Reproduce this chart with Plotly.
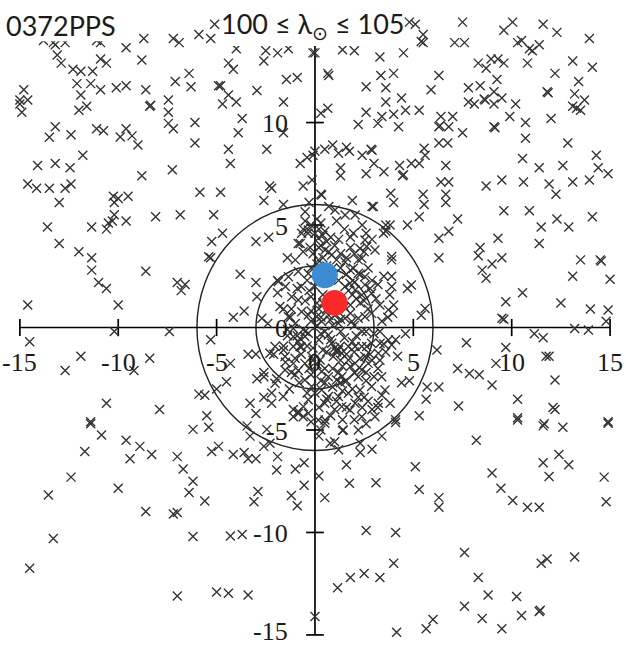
import plotly.graph_objects as go

# ---------------- data ----------------
pts_nw = [(-13.8,14.0),(-13.3,13.9),(-13.2,13.8),(-12.7,13.9),(-11.1,14.0),(-10.9,13.9),(-8.7,14.1),(-7.2,14.1),
          (-6.9,13.9),(-5.9,14.3),(-5.3,14.1),(-5.1,14.8),(-4.0,13.6),(-2.5,13.5),(-1.9,13.4),(-1.35,13.6),(-2.6,13.0),
          (-0.1,13.4),(-13.1,13.3),(-12.9,12.9),(-10.9,13.1),(-10.6,12.9),(-8.8,13.05),(-9.6,13.65),(-12.3,12.6),
          (-11.9,12.5),(-11.3,12.5),(-12.1,11.9),(-11.4,11.9),(-10.9,11.6),(-11.9,11.35),(-10.1,11.7),(-9.6,11.8),
          (-8.6,11.6),(-6.4,12.4),(-7.1,12.0),(-6.3,11.75),(-4.9,11.8),(-4.8,11.8),(-4.4,12.9),(-4.15,12.6),
          (-2.95,11.56),(-1.45,12.1),(-0.9,12.2),(-14.8,11.6),(-15.0,11.1),(-14.6,11.1),(-15.0,10.9),(-14.9,10.5),
          (-12.0,10.6),(-11.6,10.8),(-8.4,10.8),(-8.35,10.85),(-7.45,11.1),(-7.45,10.5),(-7.45,9.96),(-7.2,9.7),(-6.1,10.0),
          (-4.7,10.9),(-4.0,11.0),(-4.4,11.35),(-3.7,10.2),(-3.9,9.5),(-1.6,11.0),(-1.6,9.5),(-13.2,9.8),(-13.5,9.28),
          (-12.4,9.4),(-11.1,9.7),(-10.75,9.6),(-9.6,9.7),(-9.9,9.3),(-9.3,9.35),(-9.0,8.9),(-6.1,9.0),(-4.4,8.7),
          (-2.45,8.7),(-11.8,8.4),(-14.1,7.9),(-13.2,8.0),(-12.45,7.8),(-8.8,7.4),(-7.25,7.7),(-4.3,8.0),(-14.6,7.0),
          (-14.15,6.8),(-13.5,6.8),(-12.7,6.8),(-12.4,7.0),(-13.0,6.1),(-10.25,6.4),(-10.0,6.3),(-9.5,6.4),(-10.2,6.1),
          (-5.85,6.6),(-4.8,6.6),(-2.6,6.2),(-2.3,6.9),(-2.2,6.8),(-0.75,8.0),(-0.4,8.3),(-0.1,8.4),(-0.6,6.9),
          (-0.15,7.2),(-1.6,6.0)]

pts_ne = [(4.8,14.9),(5.1,14.8),(5.5,14.3),(5.4,13.95),(5.5,13.9),(7.5,14.9),(7.1,13.9),(7.6,13.9),(9.6,14.5),
          (10.05,14.9),(10.3,13.9),(10.5,14.0),(10.9,13.6),(11.05,13.5),(11.4,13.8),(11.6,14.8),(12.3,14.4),(13.95,14.1),
          (1.4,13.55),(2.0,13.5),(0.0,13.4),(3.3,13.2),(4.5,13.4),(0.65,12.4),(0.7,12.3),(3.35,12.3),(4.0,12.4),(2.6,11.75),
          (3.6,11.7),(4.4,11.2),(3.6,11.0),(6.3,12.3),(5.9,11.6),(8.3,12.9),(8.7,12.65),(8.95,13.1),(9.3,13.1),
          (9.6,12.9),(10.8,12.9),(13.1,13.0),(14.1,12.7),(12.2,12.4),(13.4,12.0),(11.8,11.5),(11.85,11.45),(13.2,11.4),(13.7,11.1),
          (13.1,10.8),(13.5,10.6),(13.3,10.7),(7.8,11.7),(8.4,11.8),(9.25,12.1),(9.1,11.5),(7.8,11.0),(8.1,10.9),
          (8.6,11.15),(8.65,11.1),(9.1,10.9),(9.5,11.2),(10.2,10.9),(0.3,10.45),(0.65,10.7),(2.2,9.9),(2.6,10.5),(3.2,9.96),
          (3.4,10.3),(4.0,10.4),(4.25,9.8),(4.6,10.6),(5.3,10.6),(6.4,10.3),(7.0,10.3),(6.3,9.8),(6.35,9.85),(6.8,9.8),(7.5,9.5),
          (9.1,9.8),(9.15,9.75),(9.9,10.3),(10.7,10.0),(12.0,10.2),(10.7,9.23),(12.85,9.0),(0.0,8.6),(0.5,8.7),(0.9,8.9),
          (1.2,8.5),(1.6,8.8),(1.75,8.6),(2.4,8.4),(2.85,8.7),(2.9,8.65),(3.0,8.0),(3.5,7.6),(2.6,7.5),(1.3,7.8),(1.3,7.4),
          (4.3,7.9),(4.45,7.4),(4.5,7.45),(4.9,8.0),(5.3,8.0),(5.6,8.4),(5.55,8.75),(6.3,9.0),(6.75,9.0),(6.65,7.9),
          (6.4,7.1),(6.8,7.1),(6.65,6.5),(6.65,6.1),(5.5,6.5),(5.55,6.0),(3.85,6.55),(4.0,6.1),(2.9,5.9),(1.9,6.2),
          (0.3,6.5),(8.7,6.9),(9.5,7.2),(10.6,7.1),(10.55,8.25),(11.4,7.8),(11.9,7.0),(12.25,6.5),(12.6,7.9),
          (13.1,7.1),(13.95,7.2),(14.3,8.4),(14.4,7.8),(14.9,7.5),(9.6,5.7),(10.9,5.7)]

pts_w = [(-13.6,4.9),(-13.0,4.1),(-12.0,3.7),(-11.35,4.9),(-11.35,3.4),(-11.35,2.8),(-10.6,4.8),(-10.3,5.2),
         (-10.2,5.5),(-9.6,5.2),(-10.5,5.1),(-8.1,5.4),(-6.85,5.5),(-5.15,5.5),(-11.0,2.2),(-10.6,1.9),(-8.6,2.75),
         (-7.0,2.2),(-6.6,2.1),(-6.8,1.8),(-14.6,1.1),(-10.0,1.1),(-14.5,-0.7),(-10.2,-0.2),(-7.4,-0.2),(-5.3,-0.6),
         (-11.9,-1.4),(-12.7,-2.1),(-8.4,-1.5),(-9.2,-2.1),(-10.6,-3.7),(-7.9,-4.0),(-11.4,-4.6),(-4.7,4.6),
         (-5.25,4.2),(-5.3,3.4),(-5.4,3.45),(-3.8,2.6),(-3.0,2.2),(-2.95,1.5),(-2.35,4.4),(-3.0,4.2),(-1.4,3.4),
         (-1.9,2.3),(-1.6,0.9),(-4.15,0.5),(-3.6,0.8),(-2.7,0.45),(-4.3,-1.75),(-5.0,-3.0),(-5.6,-3.3),(-5.9,-3.25),
         (-4.5,-2.65),(-5.5,-4.3),(-3.4,-1.3),(-3.0,-1.3),(-2.1,-1.3),(-3.3,-3.7),(-3.0,-4.2),(-2.6,-3.4),(-2.2,-3.2),
         (-2.95,-2.5),(-2.6,-2.4),(-1.95,-2.5),(-1.6,-0.9),(-1.5,-1.7),(-1.1,-1.75),(-0.85,-2.1),(-1.1,-4.0),
         (-0.85,-4.2),(-0.6,-4.35),(-1.4,-0.1),(-1.1,-0.05),(-0.85,-0.7),(-0.7,-0.95),(-1.1,-0.45),(-1.25,0.5),
         (-0.6,4.8),(-0.35,4.6),(-0.75,4.1),(-0.25,3.9),(-0.5,5.2)]

pts_e = [(5.3,5.4),(7.25,5.3),(4.7,5.0),(6.3,4.35),(6.8,4.7),(6.3,3.4),(8.4,3.9),(8.3,3.5),(9.3,4.35),(9.5,3.4),
         (8.5,2.8),(9.0,3.1),(8.7,2.4),(9.7,1.26),(10.55,1.7),(11.4,4.1),(11.5,4.9),(12.3,5.3),(12.9,4.9),(14.1,5.4),
         (13.5,3.3),(14.5,3.3),(14.55,3.25),(13.1,2.5),(15.0,2.35),(12.5,1.2),(14.0,0.9),(14.9,0.85),(14.8,0.3),(9.5,0.45),
         (9.6,0.4),(13.2,-0.05),(13.9,-0.12),(11.15,-0.3),(11.6,-0.5),(7.7,-0.74),(9.7,-0.97),(9.2,-1.75),(7.25,-2.0),
         (7.85,-2.24),(8.35,-2.3),(9.0,-2.8),(6.3,-2.9),(5.7,-2.9),(5.65,-3.5),(7.3,-3.83),(10.3,-3.5),(10.3,-4.4),
         (11.75,-1.4),(11.9,-1.4),(12.2,-2.56),(12.1,-3.9),(12.2,-4.0),(14.9,-4.6),(11.65,-4.7),(4.7,1.9),(4.9,2.07),
         (3.8,1.6),(3.95,0.69),(3.9,2.5),(3.9,3.3),(3.6,4.7),(3.6,5.0),(5.4,0.6),(5.6,0.93),(4.6,-0.3),(4.1,-0.6),
         (3.5,-0.8),(6.2,-1.1),(4.8,-2.6),(4.4,-2.7),(3.2,-3.9),(4.1,-4.5),(5.3,-4.3)]

pts_sw = [(-11.4,-4.7),(-10.85,-5.24),(-11.7,-6.05),(-9.6,-5.5),(-8.9,-5.8),(-9.4,-6.4),(-8.3,-6.2),(-7.0,-6.3),
          (-6.7,-6.9),(-6.2,-7.5),(-6.4,-8.05),(-5.6,-8.46),(-12.4,-7.3),(-13.55,-8.17),(-10.0,-7.84),(-8.6,-8.98),
          (-7.2,-9.1),(-7.0,-9.03),(-6.2,-10.2),(-13.3,-10.3),(-14.5,-11.75),(-7.0,-13.1),(-5.0,-12.9),(-4.4,-12.97),
          (-3.4,-13.05),(-4.3,-10.17),(-3.7,-10.1),(-6.2,-4.97),(-5.4,-4.87),(-5.25,-6.05),(-4.9,-5.8),(-4.15,-6.2),
          (-3.6,-6.1),(-3.4,-6.4),(-3.0,-6.4),(-3.45,-4.8),(-2.45,-4.97),(-2.6,-5.8),(-3.3,-5.3),(-1.9,-6.3),
          (-1.95,-6.95),(-1.0,-6.9),(-0.55,-6.6),(-0.55,-7.7),(-1.2,-8.2),(-0.9,-8.7),(-2.9,-8.0),(-3.1,-8.5),
          (0.0,-14.1)]

pts_se = [(0.5,-4.67),(1.4,-5.03),(0.2,-5.3),(1.0,-5.57),(1.2,-5.97),(2.3,-5.65),(2.3,-6.1),(2.9,-5.94),(3.4,-5.3),
          (4.1,-4.64),(1.6,-6.7),(1.75,-7.6),(0.2,-7.24),(0.5,-8.3),(3.1,-7.57),(5.1,-6.79),(5.3,-7.9),(6.3,-8.3),
          (6.3,-8.77),(8.2,-5.5),(9.0,-7.1),(9.45,-7.84),(10.05,-8.44),(10.8,-8.77),(11.4,-8.77),(10.3,-4.51),
          (11.6,-4.8),(12.6,-4.87),(14.9,-4.67),(12.4,-6.2),(12.9,-6.7),(11.6,-6.6),(11.9,-7.27),(14.7,-7.3),
          (14.8,-8.5),(2.6,-9.9),(4.1,-10.0),(4.0,-11.5),(3.3,-12.2),(2.5,-12.0),(1.8,-12.2),(1.15,-12.7),(7.6,-10.98),
          (8.3,-12.2),(8.8,-13.05),(10.25,-13.13),(7.6,-13.6),(8.5,-14.2),(9.5,-14.7),(10.5,-14.05),(11.4,-13.86),
          (11.45,-13.8),(11.5,-11.5),(11.8,-11.3),(13.2,-11.2),(6.0,-14.25),(5.65,-14.7),(4.15,-14.87)]

pts_core = [(0.34,6.47),(-0.5,5.65),(-0.34,4.76),(0.0,4.6),(0.17,4.35),(-0.85,4.1),(-0.68,4.6),(1.02,5.73),
            (1.53,5.49),(2.04,5.49),(2.97,5.9),(3.48,4.6),(3.82,5.0),(3.9,3.46),(3.9,2.0),(3.73,0.86),(1.95,4.6),
            (2.54,4.27),(2.63,3.95),(2.29,3.86),(3.05,3.78),(2.38,3.38),(1.53,3.2),(1.95,2.89),(2.2,2.64),(2.54,2.48),
            (2.54,2.08),(2.88,1.67),(2.38,1.59),(2.04,1.83),(1.78,2.16),(1.53,2.0),(0.85,3.54),(0.51,3.78),(0.17,3.3),
            (-0.34,2.64),(-0.85,2.73),(-1.35,2.48),(-1.86,2.24),(-1.18,1.5),(-0.85,1.34),(-1.78,1.02),(-1.35,0.53),
            (-0.68,0.77),(-0.34,0.61),(0.09,0.53),(0.34,0.29),(0.77,0.37),(1.19,0.21),(1.53,0.45),(1.87,0.29),(2.2,0.45),
            (2.54,0.53),(2.88,0.69),(-0.76,-0.53),(-0.51,-0.44),(-1.1,-0.93),(-0.76,-0.93),(-0.34,-0.28),(0.68,-0.36),
            (0.85,-0.77),(1.1,-1.1),(1.36,-1.26),(0.93,-1.42),(1.27,-0.93),(1.7,-0.93),(1.7,-1.58),(2.04,-0.93),
            (2.38,-0.93),(2.63,-0.93),(2.88,-0.77),(3.31,-0.77),(3.73,-0.61),(3.9,-0.85),(3.22,-1.26),(2.54,-1.42),
            (2.71,-1.75),(2.38,-2.07),(2.04,-1.75),(1.36,-2.4),(1.53,-2.64),(1.1,-2.56),(0.68,-2.4),(0.34,-2.15),
            (0.26,-1.58),(-0.17,-1.42),(-0.51,-1.75),(-1.01,-1.5),(-1.52,-1.42),(-2.03,-0.93),(-2.29,-1.26),(-1.52,-2.07),
            (-1.01,-2.31),(-0.51,-2.56),(-0.17,-2.88),(0.34,-3.05),(0.68,-3.37),(1.19,-3.37),(1.7,-3.21),(2.04,-3.7),
            (1.78,-4.02),(1.36,-3.86),(2.29,-3.05),(2.88,-2.88),(3.39,-2.4),(3.56,-3.05),(3.22,-3.7),(3.05,-4.35),
            (3.82,-3.7),(-0.34,-3.53),(-0.59,-3.86),(-0.85,-4.1),(-1.1,-4.35),(-0.34,-4.18),(0.17,-4.51),(0.51,-4.51),
            (1.44,-5.0),(0.77,-5.65),(-2.03,-2.72),(-2.2,-3.7),(-1.61,-3.37),(-2.29,-5.65),(2.38,-4.35),(2.2,-5.0)]

pts_dense = [(0.1,5.3),(0.3,5.1),(-0.2,5.0),(0.4,4.5),(0.6,4.2),(0.2,3.9),(-0.1,3.6),(0.4,3.4),(0.1,3.1),(0.6,3.0),
             (-0.2,2.9),(0.2,2.3),(0.0,2.0),(-0.3,1.8),(0.4,1.6),(0.1,1.2),(0.6,0.9),(-0.2,0.8),(0.3,0.5),(0.1,0.1),
             (0.5,-0.2),(0.2,-0.6),(-0.1,-1.0),(0.4,-1.1),(0.1,-1.8),(0.5,-2.0),(-0.2,-2.3),(0.3,-2.6),(0.0,-3.2),
             (0.6,-3.5),(0.2,-3.9),(-0.2,-4.6),(0.3,-5.0),(1.0,4.0),(1.3,3.6),(1.8,3.9),(2.2,3.3),(1.6,2.6),(1.2,2.3),
             (2.0,2.2),(2.7,2.9),(1.9,1.6),(1.5,1.0),(2.3,1.2),(2.7,0.9),(1.0,0.6),(1.8,0.7),(1.3,-0.2),(2.1,-0.4),
             (2.6,-0.2),(1.0,-1.0),(1.1,-1.2),(1.2,-1.1),(1.6,-1.3),(2.0,-1.2),(2.8,-1.3),(1.4,-1.9),(2.2,-2.4),
             (2.6,-2.2),(1.3,-2.7),(1.6,-2.6),(1.9,-3.0),(2.5,-3.4),(1.0,-4.0),(2.0,-4.5),(3.2,-2.0),(3.0,-0.3),
             (3.4,0.3),(3.1,1.4),(3.5,2.5),(2.9,4.3),(1.5,4.8),(2.4,5.0),(-0.6,3.7),(-1.0,3.3),(-0.7,2.0),(-1.2,0.9),
             (-0.5,-0.2),(-0.9,-0.4),(-1.4,-0.4),(-0.7,-1.3),(-1.2,-2.2),(-0.4,-3.2),(-1.6,-1.1),(-2.4,0.2),
             (-2.6,-2.2),(-1.9,1.7)]

pts_dense2 = [(0.2,4.8),(0.5,4.7),(0.8,4.4),(1.2,4.3),(0.3,4.0),(0.7,3.7),(1.1,3.3),(1.6,3.4),(2.0,3.6),(2.5,3.7),
              (0.9,2.9),(1.3,2.9),(1.8,2.8),(2.3,2.6),(2.9,2.3),(3.2,2.1),(0.2,2.6),(1.7,1.8),(2.1,1.4),(2.5,1.3),
              (2.8,1.9),(3.3,1.1),(0.4,1.2),(1.8,1.1),(0.2,0.9),(0.7,0.6),(1.3,0.4),(2.0,0.1),(2.4,-0.2),(0.9,0.1),
              (0.3,-0.3),(0.8,-0.6),(1.5,-0.5),(1.9,-0.7),(2.3,-1.5),(2.9,-1.6),(3.3,-1.6),(0.6,-1.2),(1.3,-1.6),
              (1.8,-1.9),(2.0,-2.2),(2.6,-2.6),(3.0,-2.4),(0.9,-2.0),(1.2,-2.2),(0.5,-2.7),(0.9,-2.9),(1.4,-3.1),
              (2.2,-3.4),(2.7,-3.6),(3.4,-3.3),(0.5,-3.7),(1.1,-3.6),(1.6,-3.9),(2.4,-3.9),(2.9,-4.0),(0.8,-4.3),
              (1.4,-4.5),(2.6,-4.7),(-0.1,-1.6),(-0.4,-0.9),(-0.3,-2.0),(-0.8,-2.7),(-1.3,-3.0),(-0.6,-0.1),
              (-0.2,0.3),(-1.0,0.2),(-0.5,1.3),(-0.9,1.9),(-1.5,2.0),(-0.4,2.3),(-0.2,1.5),(3.6,-1.2),(3.3,-0.2),
              (3.7,0.5),(4.2,-1.4),(4.0,1.1),(1.1,5.2),(0.7,5.9),(-0.3,6.1),(1.8,4.4),(2.6,4.6)]

ring_radii = [3, 6]
blue_point = (0.5, 2.55)
red_point = (1.0, 1.2)
tick_values = [-15, -10, -5, 5, 10, 15]
x_tick_labels = ["-15", "-10", "-5", "0", "5", "10", "15"]
x_tick_pos = [-15, -10, -5, 0, 5, 10, 15]
y_tick_labels = ["-15", "-10", "-5", "0", "5", "10"]
y_tick_pos = [-15, -10, -5, 0, 5, 10]
title_left = "0372PPS"
title_center = "100 ≤ λ<sub>⊙</sub> ≤ 105"

# ---------------- figure ----------------
all_pts = pts_nw + pts_ne + pts_w + pts_e + pts_sw + pts_se + pts_core + pts_dense + pts_dense2
mx = [p[0] for p in all_pts]
my = [p[1] for p in all_pts]

fig = go.Figure()
fig.add_trace(go.Scatter(
    x=mx, y=my, mode="markers",
    marker=dict(symbol="x-thin", size=9, color="#333333", line=dict(width=1.4, color="#333333")),
    hoverinfo="skip", showlegend=False))
fig.add_trace(go.Scatter(
    x=[blue_point[0]], y=[blue_point[1]], mode="markers",
    marker=dict(symbol="circle", size=26, color="#3b8ad2", line=dict(width=0)),
    showlegend=False))
fig.add_trace(go.Scatter(
    x=[red_point[0]], y=[red_point[1]], mode="markers",
    marker=dict(symbol="circle", size=26, color="#fb2a2a", line=dict(width=0)),
    showlegend=False))

shapes = []
for r in ring_radii:
    shapes.append(dict(type="circle", xref="x", yref="y", x0=-r, x1=r, y0=-r, y1=r,
                       line=dict(color="#222222", width=1.4), layer="below"))
# axes crossing at the origin
shapes.append(dict(type="line", xref="x", yref="y", x0=-15, x1=15, y0=0, y1=0,
                   line=dict(color="black", width=1.7), layer="below"))
shapes.append(dict(type="line", xref="x", yref="y", x0=0, x1=0, y0=-15, y1=15.5,
                   line=dict(color="black", width=1.7), layer="below"))
for t in tick_values:
    shapes.append(dict(type="line", xref="x", yref="y", x0=t, x1=t, y0=-0.42, y1=0.42,
                       line=dict(color="black", width=1.7), layer="below"))
    shapes.append(dict(type="line", xref="x", yref="y", x0=-0.45, x1=0.45, y0=t, y1=t,
                       line=dict(color="black", width=1.7), layer="below"))
# white title boxes (cover what lies under the titles)
shapes.append(dict(type="rect", xref="x", yref="y", x0=-16.2, x1=-10.0, y0=13.97, y1=16.2,
                   fillcolor="white", line=dict(width=0), layer="above"))
shapes.append(dict(type="rect", xref="x", yref="y", x0=-4.73, x1=4.42, y0=13.73, y1=16.2,
                   fillcolor="white", line=dict(width=0), layer="above"))

annotations = []
serif = dict(family="Liberation Serif", size=26, color="#1a1a1a")
for lab, pos in zip(x_tick_labels, x_tick_pos):
    annotations.append(dict(x=pos, y=-1.73, xref="x", yref="y", text=lab, showarrow=False,
                            xanchor="center", yanchor="middle", font=serif))
for lab, pos in zip(y_tick_labels, y_tick_pos):
    yy = pos - 0.05 if pos > -15 else -14.85
    annotations.append(dict(x=-1.27, y=yy, xref="x", yref="y", text=lab, showarrow=False,
                            xanchor="right", yanchor="middle", font=serif))
sans = dict(family="Lato", size=27, color="#1a1a1a")
annotations.append(dict(x=-12.91, y=14.76, xref="x", yref="y", text=title_left, showarrow=False,
                        xanchor="center", yanchor="middle", font=sans))
annotations.append(dict(x=-0.1, y=14.76, xref="x", yref="y", text=title_center, showarrow=False,
                        xanchor="center", yanchor="middle", font=sans))

fig.update_layout(
    width=626, height=646,
    margin=dict(l=0, r=0, t=0, b=0),
    paper_bgcolor="white", plot_bgcolor="white",
    xaxis=dict(range=[-16.01, 15.81], visible=False, fixedrange=True),
    yaxis=dict(range=[-15.54, 15.98], visible=False, fixedrange=True),
    shapes=shapes, annotations=annotations,
    showlegend=False,
)
fig.write_html("out.html")
